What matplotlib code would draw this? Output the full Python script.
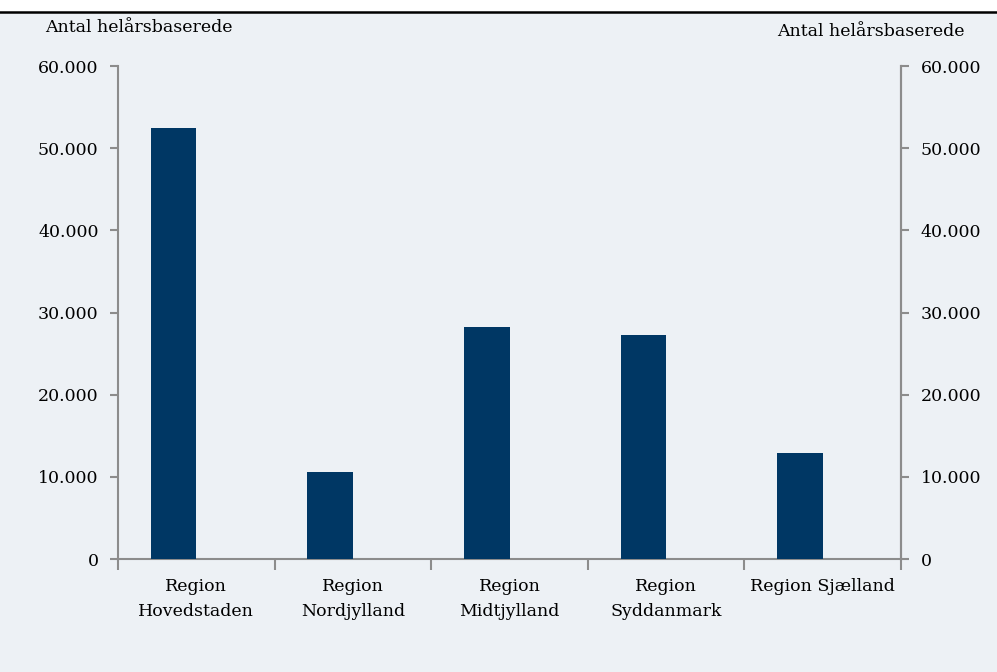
import matplotlib
matplotlib.use("Agg")
import matplotlib.pyplot as plt
import numpy as np

categories = ["Region\nHovedstaden", "Region\nNordjylland", "Region\nMidtjylland",
              "Region\nSyddanmark", "Region Sjælland"]
values = [52500, 10600, 28200, 27250, 12900]
yticks = [0, 10000, 20000, 30000, 40000, 50000, 60000]
ytick_labels = ["0", "10.000", "20.000", "30.000", "40.000", "50.000", "60.000"]
axis_label = "Antal helårsbaserede"

bg = "#EDF1F5"
bar_color = "#003764"
spine_color = "#8C8C8C"
font = "DejaVu Serif"
fs = 12.5

fig = plt.figure(figsize=(9.97, 6.72), dpi=100)
fig.patch.set_facecolor("white")
fig.add_artist(plt.Rectangle((0, 0), 1, 1 - 13/672, transform=fig.transFigure,
                             facecolor=bg, edgecolor="none", zorder=0))
fig.add_artist(plt.Line2D([0, 1], [1 - 12/672, 1 - 12/672], transform=fig.transFigure,
                          color="black", lw=1.8, zorder=1))

ax = fig.add_axes([118/997, 1 - 559/672, (901-118)/997, (559-66)/672])
ax.set_facecolor("none")
x = np.arange(len(categories))
w = 0.29
ax.bar(x - w/2, values, width=w, color=bar_color, zorder=3)
ax.set_xlim(-0.5, len(categories) - 0.5)
ax.set_ylim(0, 60000)

ax.set_yticks(yticks)
ax.set_yticklabels(ytick_labels, fontfamily=font, fontsize=fs)
ax.set_xticks(x)
ax.set_xticklabels(categories, fontfamily=font, fontsize=fs, linespacing=1.55)
ax.set_xticks(np.arange(len(categories) + 1) - 0.5, minor=True)
ax.tick_params(axis="x", which="major", length=0, pad=14)
ax.tick_params(axis="x", which="minor", length=8, color=spine_color, width=1.5, direction="out")
ax.tick_params(axis="y", length=6, color=spine_color, width=1.5, direction="out", pad=8)

ax.spines["top"].set_visible(False)
for s in ["left", "bottom", "right"]:
    ax.spines[s].set_color(spine_color)
    ax.spines[s].set_linewidth(1.5)

ax2 = ax.twinx()
ax2.set_ylim(0, 60000)
ax2.set_yticks(yticks)
ax2.set_yticklabels(ytick_labels, fontfamily=font, fontsize=fs)
ax2.tick_params(axis="y", length=6, color=spine_color, width=1.5, direction="out", pad=8)
for s in ["top", "left", "bottom"]:
    ax2.spines[s].set_visible(False)
ax2.spines["right"].set_color(spine_color)
ax2.spines["right"].set_linewidth(1.5)

fig.text(45/997, 1 - 28/672, axis_label, fontfamily=font, fontsize=fs, ha="left", va="center")
fig.text(965/997, 1 - 32/672, axis_label, fontfamily=font, fontsize=fs, ha="right", va="center")

fig.savefig("out.png", dpi=100, facecolor=fig.get_facecolor())
